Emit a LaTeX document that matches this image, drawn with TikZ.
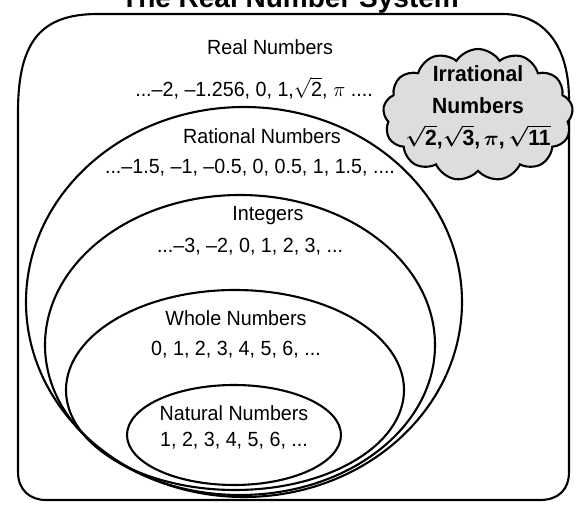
\documentclass[tikz,border=0pt]{standalone}
\usepackage{fontspec}
\setmainfont{Liberation Sans}
\newfontfamily\lblfont[FakeStretch=0.96]{Liberation Sans}
\usepackage{amsmath}
\usetikzlibrary{shapes.symbols}

\begin{document}
\begin{tikzpicture}[x=1pt, y=-1pt,
  set/.style={draw, line width=2.1pt},
  lbl/.style={font=\lblfont\fontsize{20.5}{24}\selectfont, inner sep=0pt},
  irr/.style={cloud, cloud puffs=13, cloud puff arc=115, aspect=1.45,
              draw, line width=2.1pt, fill=gray!27,
              minimum width=190pt, minimum height=132pt},
  irrtext/.style={font=\lblfont\bfseries\boldmath\fontsize{22}{32}\selectfont,
                  align=center, inner sep=0pt}
]
\useasboundingbox (0,0) rectangle (579,510);

%% Title, cut off by the top edge
\node[font=\bfseries\fontsize{28}{30}\selectfont, anchor=base] (title)
  at (290,8) {The Real Number System};

%% Real numbers
\draw[set] (18,112) .. controls (18,40) and (42,14) .. (98,14) -- (502,14)
  .. controls (544,14) and (569,45) .. (569,100) -- (569,472)
  .. controls (569,490) and (558,500) .. (540,500) -- (46,500)
  .. controls (30,500) and (18,490) .. (18,472) -- cycle;
\node[lbl] (realname) at (270,47) {Real Numbers};
\node[lbl] (realex) at (254,88) {...–2, –1.256, 0, 1,$\sqrt{\text{2}}$, $\pi$ ....};

%% Irrational numbers
\node[irr] (irr) at (478,115) {};
\node[irrtext] (irrtxt) at (478,107)
  {Irrational\\Numbers\\$\sqrt{\text{2}}$,$\sqrt{\text{3}}$,\,$\pi$,\,$\sqrt{\text{11}}$};

%% Rational numbers
\draw[set] (244,302) ellipse [x radius=218pt, y radius=195pt];
\node[lbl] (ratname) at (262,136) {Rational Numbers};
\node[lbl] (ratex) at (250,168) {...–1.5, –1, –0.5, 0, 0.5, 1, 1.5, ....};

%% Integers
\draw[set] (240,345) ellipse [x radius=195pt, y radius=150pt];
\node[lbl] (intname) at (268,216) {Integers};
\node[lbl] (intex) at (250,247) {...–3, –2, 0, 1, 2, 3, ...};

%% Whole numbers
\draw[set] (235,390) ellipse [x radius=169pt, y radius=100pt];
\node[lbl] (wholename) at (236,318) {Whole Numbers};
\node[lbl] (wholeex) at (236,350) {0, 1, 2, 3, 4, 5, 6, ...};

%% Natural numbers
\draw[set] (234,435) ellipse [x radius=107pt, y radius=50pt];
\node[lbl] (natname) at (234,413) {Natural Numbers};
\node[lbl] (natex) at (234,441) {1, 2, 3, 4, 5, 6, ...};

\end{tikzpicture}
\end{document}
